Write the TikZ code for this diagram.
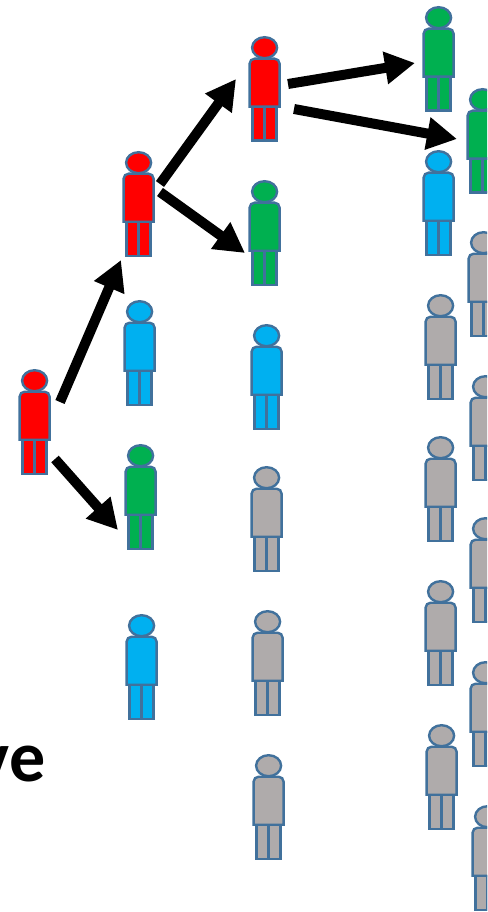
\documentclass[tikz,border=0pt]{standalone}
\usepackage{fontspec}
\setmainfont{Carlito}
\usetikzlibrary{arrows.meta}

\definecolor{personRed}{HTML}{FF0000}
\definecolor{personGreen}{HTML}{00B050}
\definecolor{personBlue}{HTML}{00B0F0}
\definecolor{personGray}{HTML}{AFABAB}
\definecolor{personEdge}{HTML}{41719C}

\tikzset{
	personPart/.style={draw=personEdge,line width=0.048cm},
	spread/.style={line width=0.2cm,-{Triangle[length=0.6cm,width=0.62cm]}}
}

\begin{document}
\begin{tikzpicture}[x=0.02cm,y=-0.02cm]
	\clip (0,0) rectangle (487,912);

	\newcommand\drawPerson[4]{
		\begin{scope}[shift={(#1+0.6,#2-0.3)}]
			\coordinate (#4) at (0,52);
			\filldraw[personPart,fill=#3] (-12,70) rectangle (0,104);
			\filldraw[personPart,fill=#3] (0,70) rectangle (12,104);
			\filldraw[personPart,fill=#3] (-15,70) -- (-15,27) arc[start angle=180,end angle=90,x radius=5,y radius=-5] -- (10,22) arc[start angle=90,end angle=0,x radius=5,y radius=-5] -- (15,70) -- cycle;
			\filldraw[personPart,fill=#3] (0,11) ellipse[x radius=12.5,y radius=10.5];
		\end{scope}
	}

	\drawPerson{34}{370}{personRed}{root}

	\drawPerson{138}{152}{personRed}{b0}
	\drawPerson{139}{301}{personBlue}{b1}
	\drawPerson{140}{445}{personGreen}{b2}
	\drawPerson{141}{615}{personBlue}{b3}

	\drawPerson{264}{37}{personRed}{c0}
	\drawPerson{264}{181}{personGreen}{c1}
	\drawPerson{266}{325}{personBlue}{c2}
	\drawPerson{266}{467}{personGray}{c3}
	\drawPerson{267}{611}{personGray}{c4}
	\drawPerson{268}{755}{personGray}{c5}

	\drawPerson{438}{7}{personGreen}{d0}
	\drawPerson{438}{151}{personBlue}{d1}
	\drawPerson{440}{295}{personGray}{d2}
	\drawPerson{440}{437}{personGray}{d3}
	\drawPerson{440}{581}{personGray}{d4}
	\drawPerson{441}{725}{personGray}{d5}

	\drawPerson{482}{89}{personGreen}{e0}
	\drawPerson{483}{232}{personGray}{e1}
	\drawPerson{485}{376}{personGray}{e2}
	\drawPerson{485}{518}{personGray}{e3}
	\drawPerson{485}{662}{personGray}{e4}
	\drawPerson{487}{806}{personGray}{e5}

	\coordinate (rootUp) at (60,402);
	\coordinate (b0In) at (121,260);
	\coordinate (rootDown) at (55,459);
	\coordinate (b2In) at (118,530);
	\coordinate (b0Up) at (160,184);
	\coordinate (c0In) at (236,79);
	\coordinate (b0Down) at (160,192);
	\coordinate (c1In) at (245,253);
	\coordinate (c0Up) at (288,84);
	\coordinate (d0In) at (415,63);
	\coordinate (c0Down) at (294,109);
	\coordinate (e0In) at (457,139);

	\draw[spread] (rootUp) -- (b0In);
	\draw[spread] (rootDown) -- (b2In);
	\draw[spread] (b0Up) -- (c0In);
	\draw[spread] (b0Down) -- (c1In);
	\draw[spread] (c0Up) -- (d0In);
	\draw[spread] (c0Down) -- (e0In);

	\node[anchor=base east,inner sep=0pt,font=\fontsize{41}{41}\selectfont\bfseries] (word) at (46,781) {ve};
\end{tikzpicture}
\end{document}
